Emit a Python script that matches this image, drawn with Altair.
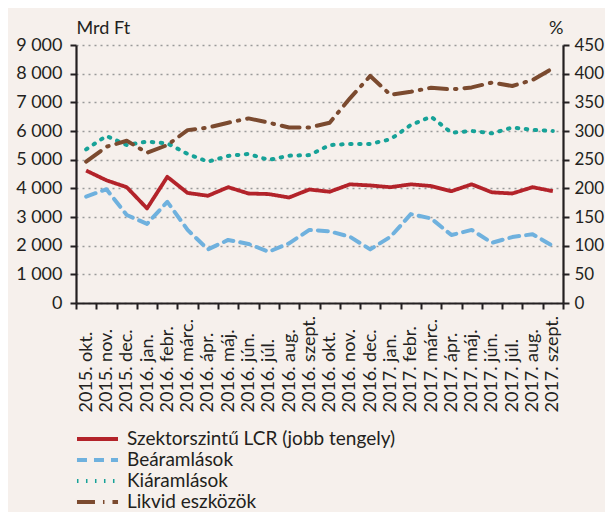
import altair as alt
import pandas as pd

months = ["2015. okt.", "2015. nov.", "2015. dec.", "2016. jan.", "2016. febr.", "2016. márc.",
          "2016. ápr.", "2016. máj.", "2016. jún.", "2016. júl.", "2016. aug.", "2016. szept.",
          "2016. okt.", "2016. nov.", "2016. dec.", "2017. jan.", "2017. febr.", "2017. márc.",
          "2017. ápr.", "2017. máj.", "2017. jún.", "2017. júl.", "2017. aug.", "2017. szept."]
series_names = ["Szektorszintű LCR (jobb tengely)", "Beáramlások", "Kiáramlások", "Likvid eszközök"]

lcr = [231, 214, 202, 165, 220, 192, 187, 202, 191, 190, 184, 198,
       194, 207, 205, 202, 207, 204, 195, 207, 193, 191, 202, 195]
inflows = [3710, 3970, 3070, 2760, 3530, 2550, 1870, 2200, 2060, 1790, 2080, 2550,
           2500, 2310, 1870, 2310, 3100, 2950, 2370, 2550, 2100, 2300, 2400, 1990]
outflows = [5360, 5830, 5510, 5630, 5570, 5200, 4930, 5130, 5200, 4990, 5140, 5160,
            5510, 5550, 5550, 5710, 6210, 6500, 5940, 6000, 5920, 6120, 6040, 6000]
liquid = [4930, 5450, 5660, 5240, 5510, 6030, 6120, 6290, 6440, 6290, 6120, 6120,
          6290, 7140, 7920, 7260, 7370, 7510, 7450, 7520, 7690, 7570, 7780, 8190]

left_ticks = [0, 1000, 2000, 3000, 4000, 5000, 6000, 7000, 8000, 9000]
right_ticks = [0, 50, 100, 150, 200, 250, 300, 350, 400, 450]

colors = ["#b3232a", "#6fb1de", "#17a298", "#7b4a2f"]
dashes = [[1, 0], [10, 7], [1.5, 7.5], [18, 8, 1.5, 8]]

rows = []
for name, vals in zip(series_names, [lcr, inflows, outflows, liquid]):
    for m, v in zip(months, vals):
        rows.append({"month": m, "series": name, "value": v})
df = pd.DataFrame(rows)

FONT = "Lato"
TXT = "#231f20"
AX = "#231f20"

x_enc = alt.X(
    "month:N", sort=months, title=None, bandPosition=0.5,
    scale=alt.Scale(type="band", paddingInner=0, paddingOuter=0),
    axis=alt.Axis(labelAngle=270, labelAlign="left", labelBaseline="middle",
                  labelPadding=103, tickBand="extent", tickSize=6, grid=False,
                  labelOverlap=False, labelFlush=False),
)

color_enc = alt.Color(
    "series:N", title=None,
    scale=alt.Scale(domain=series_names, range=colors),
    legend=alt.Legend(orient="none", legendX=1.5, legendY=383, direction="vertical",
                      symbolType="M-1.28,0H3.28", symbolSize=324, symbolStrokeWidth=4,
                      labelFontSize=19, labelFont=FONT, labelColor=TXT, labelOffset=27.5,
                      rowPadding=0, padding=0, labelLimit=400),
)
dash_enc = alt.StrokeDash("series:N", title=None,
                          scale=alt.Scale(domain=series_names, range=dashes))

left = alt.Chart(df).transform_filter(
    alt.datum.series != series_names[0]
).mark_line(strokeWidth=4, strokeCap="round", strokeJoin="round").encode(
    x=x_enc,
    y=alt.Y("value:Q", scale=alt.Scale(domain=[0, 9000]),
            axis=alt.Axis(values=left_ticks, title="Mrd Ft", titleAngle=0, titleAlign="left",
                          titleBaseline="alphabetic", titleX=0, titleY=-12,
                          labelExpr="replace(format(datum.value, ','), ',', ' ')",
                          grid=True, gridDash=[2, 4], gridColor="#9a9a9a", gridWidth=1.3,
                          tickSize=6, labelPadding=8)),
    color=color_enc,
    strokeDash=dash_enc,
    order=alt.Order("series:N"),
)

right = alt.Chart(df).transform_filter(
    alt.datum.series == series_names[0]
).mark_line(strokeWidth=3.8, strokeJoin="round").encode(
    x=x_enc,
    y=alt.Y("value:Q", scale=alt.Scale(domain=[0, 450]),
            axis=alt.Axis(orient="right", values=right_ticks, title="%", titleAngle=0,
                          titleAlign="right", titleBaseline="alphabetic", titleX=0, titleY=-12,
                          titleFontSize=18, labelFontSize=17,
                          grid=False, tickSize=6, labelPadding=5)),
    color=color_enc,
    strokeDash=dash_enc,
)

chart = alt.layer(left, right).resolve_scale(y="independent").properties(
    width=487, height=258,
    autosize=alt.AutoSizeParams(type="none"),
    padding={"left": 68, "top": 37, "right": 42, "bottom": 209},
    background="#f6f0ec",
).configure_axis(
    labelFont=FONT, labelFontSize=18, labelColor=TXT,
    titleFont=FONT, titleFontSize=18, titleColor=TXT, titleFontWeight="normal",
    domainColor=AX, domainWidth=2.2, tickColor=AX, tickWidth=2,
).configure_view(stroke=None)

chart.save("out.html", embed_options={"renderer": "svg", "actions": False})
